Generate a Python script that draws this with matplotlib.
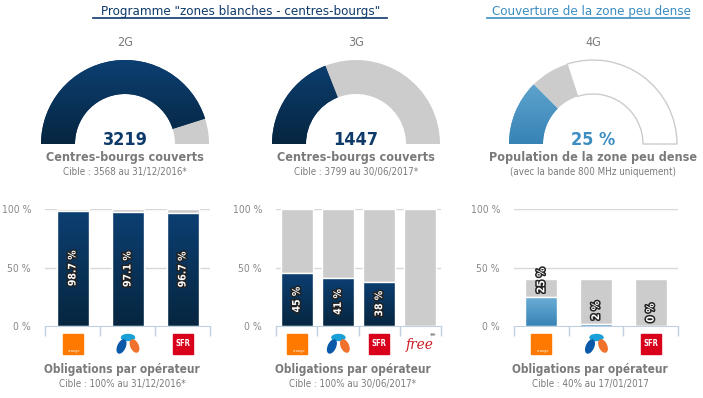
import numpy as np
import matplotlib
matplotlib.use("Agg")
import matplotlib.pyplot as plt
from matplotlib.patches import Wedge, Rectangle, Ellipse
from matplotlib.colors import LinearSegmentedColormap
import matplotlib.patheffects as pe

# --- data -------------------------------------------------------------
gauge_names = ["2G", "3G", "4G"]
gauge_values = [3219, 1447, 25]
gauge_max = [3568, 3799, 100]
gauge_target = [3568, 3799, 40]
gauge_texts = ["3219", "1447", "25 %"]
gauge_captions = ["Centres-bourgs couverts", "Centres-bourgs couverts",
                  "Population de la zone peu dense"]
gauge_notes = ["Cible : 3568 au 31/12/2016*", "Cible : 3799 au 30/06/2017*",
               "(avec la bande 800 MHz uniquement)"]

ops_2g = ["orange", "bouygues", "sfr"]
vals_2g = [98.7, 97.1, 96.7]
ops_3g = ["orange", "bouygues", "sfr", "free"]
vals_3g = [45, 41, 38, np.nan]
ops_4g = ["orange", "bouygues", "sfr"]
vals_4g = [25, 2, 0]
bar_targets = [100, 100, 40]
bar_notes = ["Cible : 100% au 31/12/2016*", "Cible : 100% au 30/06/2017*",
             "Cible : 40% au 17/01/2017"]

# --- style ------------------------------------------------------------
W, H = 703, 398
NAVY = LinearSegmentedColormap.from_list("navy", ["#0c3f72", "#062640"])
LIGHT = LinearSegmentedColormap.from_list("light", ["#6db0d6", "#3783b6"])
GREY = "#cccccc"
TXT = "#7a7a7a"
plt.rcParams["font.family"] = "DejaVu Sans"
plt.rcParams["font.stretch"] = "condensed"

fig = plt.figure(figsize=(W / 100, H / 100), dpi=100)
fig.patch.set_facecolor("white")

ov = fig.add_axes([0, 0, 1, 1])
ov.set_xlim(0, W)
ov.set_ylim(H, 0)
ov.axis("off")


def px_axes(x, y, w, h):
    return fig.add_axes([x / W, 1 - (y + h) / H, w / W, h / H])


def gradient_fill(ax, patch, cmap, x0, x1, ytop, ybot):
    grad = np.linspace(0, 1, 256).reshape(-1, 1)
    im = ax.imshow(grad, cmap=cmap, aspect="auto", origin="upper",
                   extent=(x0, x1, ybot, ytop), zorder=patch.get_zorder(),
                   interpolation="bilinear")
    im.set_clip_path(patch)


# titles
ov.text(241, 12, 'Programme "zones blanches - centres-bourgs"', ha="center",
        va="center", fontsize=9.5, color="#0e3a6a")
ov.plot([93, 387], [17.5, 17.5], color="#0e3a6a", lw=1.2)
ov.text(592, 12, "Couverture de la zone peu dense", ha="center", va="center",
        fontsize=9.5, color="#3b8dc2")
ov.plot([487, 689], [17.5, 17.5], color="#3b8dc2", lw=1.2)

# gauges
centers = [125, 356, 593]
cy, R, ring = 144, 84, 34
for i, cx in enumerate(centers):
    f = gauge_values[i] / gauge_max[i]
    t = gauge_target[i] / gauge_max[i]
    cmap = LIGHT if i == 2 else NAVY
    col = "#3b8dc2" if i == 2 else "#0e3a6a"
    # white remainder (only 4G) with grey outline
    if t < 1:
        ov.add_patch(Wedge((cx, cy), R, 180 + 180 * t, 360, width=ring,
                           facecolor="white", edgecolor=GREY, lw=1, zorder=2))
    ov.add_patch(Wedge((cx, cy), R, 180 + 180 * f, 180 + 180 * t, width=ring,
                       facecolor=GREY, lw=0, zorder=2))
    w = Wedge((cx, cy), R, 180, 180 + 180 * f, width=ring,
              facecolor=cmap(0.5), lw=0, zorder=3)
    ov.add_patch(w)
    gradient_fill(ov, w, cmap, cx - R, cx + R, cy - R, cy)
    ov.text(cx, 43, gauge_names[i], ha="center", va="center", fontsize=9,
            color=TXT)
    ov.text(cx, 140, gauge_texts[i], ha="center", va="center", fontsize=13,
            fontweight="bold", color=col, zorder=5)
    ov.text(cx, 157, gauge_captions[i], ha="center", va="center", fontsize=9,
            fontweight="bold", color=TXT)
    ov.text(cx, 172, gauge_notes[i], ha="center", va="center", fontsize=7,
            color=TXT)


# logos
def draw_logo(name, x, y):
    if name == "orange":
        ov.add_patch(Rectangle((x - 10, y - 10), 20, 20, color="#ff7900", zorder=3))
        ov.text(x + 2, y + 7, "orange", fontsize=2.8, color="white",
                ha="center", va="center", zorder=4)
    elif name == "sfr":
        r = Rectangle((x - 10, y - 10), 20, 20, color="#d9001b", zorder=3)
        ov.add_patch(r)
        ov.text(x, y, "SFR", fontsize=5.5, color="white", fontweight="bold",
                ha="center", va="center", zorder=4)
    elif name == "bouygues":
        ov.add_patch(Ellipse((x + 0.5, y - 6.5), 13, 6, color="#19a0d8", zorder=3))
        ov.add_patch(Ellipse((x - 6, y + 2.5), 7, 14, angle=25,
                             color="#0a58a8", zorder=3))
        ov.add_patch(Ellipse((x + 7, y + 2), 7, 13, angle=-25,
                             color="#f0722d", zorder=3))
    elif name == "free":
        ov.text(x - 1, y + 1, "free", fontsize=11, color="#cd1e25",
                fontstyle="italic", family="DejaVu Serif", ha="center",
                va="center", zorder=4)
        ov.text(x + 13, y - 8, "**", fontsize=5, color="#777777",
                fontweight="bold", ha="center", va="center", zorder=4)


def bar_chart(box, ops, vals, target, cmap, above, note, cx_text):
    x0, y0, w, h = box
    ax = px_axes(x0, y0, w, h)
    n = len(vals)
    xs = np.arange(n)
    bw = 32 / (w / n)
    ax.bar(xs, [target] * n, bw, color=GREY, edgecolor="white", lw=1, zorder=2)
    heights = np.nan_to_num(vals)
    bars = ax.bar(xs, heights, bw, color=cmap(0.5), edgecolor="white", lw=1,
                  zorder=3)
    for p, v in zip(bars, vals):
        if np.isnan(v) or v <= 0:
            continue
        gradient_fill(ax, p, cmap, p.get_x(), p.get_x() + p.get_width(),
                      p.get_height(), 0)
        ax.add_patch(Rectangle((p.get_x(), 0), p.get_width(), p.get_height(),
                               fill=False, edgecolor="white", lw=1, zorder=3.5))
    stroke = [pe.withStroke(linewidth=2.2, foreground="#222222")]
    for xi, v in zip(xs, vals):
        if np.isnan(v):
            continue
        lab = f"{v:g} %"
        if above:
            ax.text(xi, v + 3, lab, rotation=90, ha="center", va="bottom",
                    fontsize=7.5, fontweight="bold", color="white", zorder=5,
                    path_effects=stroke)
        else:
            ax.text(xi, v / 2, lab, rotation=90, ha="center", va="center",
                    fontsize=7.5, fontweight="bold", color="white", zorder=5,
                    path_effects=stroke)
    ax.set_xlim(-0.5, n - 0.5)
    ax.set_ylim(0, 100)
    ax.set_yticks([0, 50, 100])
    ax.set_yticklabels(["0 %", "50 %", "100 %"], fontsize=7.5, color="#8a8a8a")
    ax.tick_params(axis="y", length=0, pad=10)
    ax.set_xticks(np.arange(n + 1) - 0.5)
    ax.set_xticklabels([])
    ax.tick_params(axis="x", length=7, color="#c0d0e0", width=1)
    for s in ["top", "right", "left"]:
        ax.spines[s].set_visible(False)
    ax.spines["bottom"].set_color("#c0d0e0")
    ax.spines["bottom"].set_zorder(4)
    for g in [50, 100]:
        ax.axhline(g, color="#d8d8d8", lw=1, zorder=1)
    ax.set_facecolor("none")
    for i, op in enumerate(ops):
        draw_logo(op, x0 + (i + 0.5) * w / n, 344)
    ov.text(cx_text, 370, "Obligations par opérateur", ha="center",
            va="center", fontsize=8.5, fontweight="bold", color=TXT)
    ov.text(cx_text, 384, note, ha="center", va="center", fontsize=7,
            color=TXT)


bar_chart((45, 209, 165, 117), ops_2g, vals_2g, bar_targets[0], NAVY, False,
          bar_notes[0], 122)
bar_chart((276, 209, 165, 117), ops_3g, vals_3g, bar_targets[1], NAVY, False,
          bar_notes[1], 353)
bar_chart((514, 209, 164, 117), ops_4g, vals_4g, bar_targets[2], LIGHT, True,
          bar_notes[2], 590)

fig.savefig("out.png", dpi=100, facecolor="white")
